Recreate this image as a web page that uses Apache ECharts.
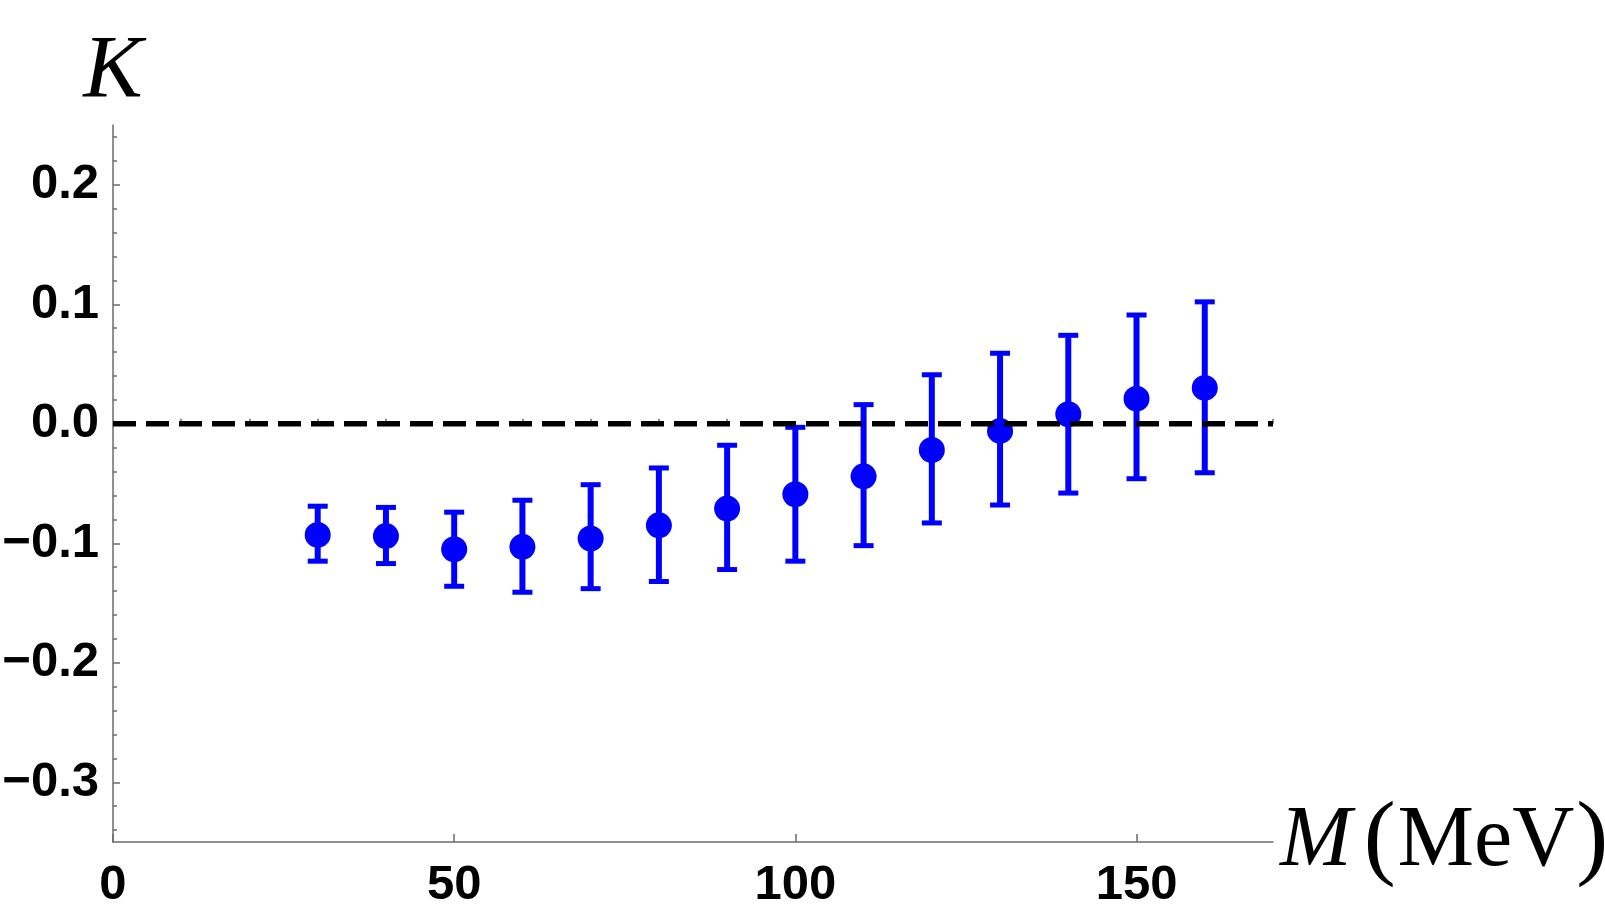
<!DOCTYPE html>
<html>
<head>
<meta charset="utf-8">
<script src="https://cdn.jsdelivr.net/npm/echarts@6/dist/echarts.min.js"></script>
<style>
html,body{margin:0;padding:0;background:#fff;}
#chart{width:1605px;height:917px;}
</style>
</head>
<body>
<div id="chart"></div>
<script>
// ---- data ----
var massMeV = [30, 40, 50, 60, 70, 80, 90, 100, 110, 120, 130, 140, 150, 160];
var kValue  = [-0.093, -0.094, -0.105, -0.103, -0.096, -0.085, -0.071, -0.059, -0.044, -0.022, -0.006, 0.008, 0.021, 0.030];
var kUpper  = [-0.069, -0.070, -0.074, -0.064, -0.051, -0.037, -0.018, -0.003, 0.016, 0.041, 0.059, 0.074, 0.091, 0.102];
var kLower  = [-0.115, -0.117, -0.136, -0.141, -0.138, -0.132, -0.122, -0.115, -0.102, -0.083, -0.068, -0.058, -0.046, -0.041];
var zeroLineX = [0, 170];
var zeroLineY = [0, 0];
var xMajorTicks = [0, 50, 100, 150];
var xMinorTicks = [10, 20, 30, 40, 60, 70, 80, 90, 110, 120, 130, 140, 160, 170];
var yMajorTicks = [-0.3, -0.2, -0.1, 0.0, 0.1, 0.2];
var yMinorTicks = [-0.34, -0.32, -0.28, -0.26, -0.24, -0.22, -0.18, -0.16, -0.14, -0.12,
                   -0.08, -0.06, -0.04, -0.02, 0.02, 0.04, 0.06, 0.08, 0.12, 0.14, 0.16, 0.18, 0.22, 0.24];

var pointData = massMeV.map(function (m, i) { return [m, kValue[i]]; });
var errData = massMeV.map(function (m, i) { return [m, kLower[i], kUpper[i]]; });
var zeroData = zeroLineX.map(function (x, i) { return [x, zeroLineY[i]]; });

var axisColor = '#6b6b6b';
var labelFont = { fontFamily: 'Liberation Sans, Arial, sans-serif', fontWeight: 'bold', fontSize: 49, color: '#000' };
var serif = 'Liberation Serif, Times New Roman, serif';

var chart = echarts.init(document.getElementById('chart'));
chart.setOption({
  animation: false,
  backgroundColor: '#fff',
  grid: { left: 113, right: 332, top: 125, bottom: 75, containLabel: false, outerBoundsMode: 'none' },
  xAxis: [{
    type: 'value', min: 0, max: 170, position: 'bottom',
    axisLine: { show: true, onZero: false, lineStyle: { color: axisColor, width: 1.5 } },
    axisTick: { show: true, inside: true, length: 8, customValues: xMajorTicks, lineStyle: { color: axisColor, width: 1.5 } },
    axisLabel: Object.assign({ customValues: xMajorTicks, margin: 19, formatter: function (v) { return String(v); } }, labelFont),
    splitLine: { show: false },
    name: '{m|M}{p1|(}{r|MeV}{p|)}',
    nameLocation: 'end', nameGap: 7,
    nameTextStyle: {
      rich: {
        m: { fontFamily: serif, fontStyle: 'italic', fontSize: 86, color: '#000' },
        p1: { fontFamily: serif, fontSize: 96, color: '#000', padding: [0, 2, 0, 12] },
        p: { fontFamily: serif, fontSize: 96, color: '#000', padding: [0, 0, 0, 2] },
        r: { fontFamily: serif, fontSize: 86, color: '#000' }
      }
    }
  }, {
    type: 'value', min: 0, max: 170, position: 'bottom',
    axisLine: { show: false },
    axisTick: { show: true, inside: true, length: 5, customValues: xMinorTicks, lineStyle: { color: axisColor, width: 1.5 } },
    axisLabel: { show: false },
    splitLine: { show: false }
  }],
  yAxis: [{
    type: 'value', min: -0.35, max: 0.25, position: 'left',
    axisLine: { show: true, onZero: false, lineStyle: { color: axisColor, width: 1.5 } },
    axisTick: { show: true, inside: true, length: 7, customValues: yMajorTicks, lineStyle: { color: axisColor, width: 1.5 } },
    axisLabel: Object.assign({ customValues: yMajorTicks, margin: 14,
      formatter: function (v) { var s = Math.abs(v).toFixed(1); return v < -1e-9 ? '\u2212' + s : s; } }, labelFont),
    splitLine: { show: false },
    name: 'K', nameLocation: 'end', nameGap: 8,
    nameTextStyle: { fontFamily: serif, fontStyle: 'italic', fontSize: 89, color: '#000', align: 'center' }
  }, {
    type: 'value', min: -0.35, max: 0.25, position: 'left',
    axisLine: { show: false },
    axisTick: { show: true, inside: true, length: 4, customValues: yMinorTicks, lineStyle: { color: axisColor, width: 1.5 } },
    axisLabel: { show: false },
    splitLine: { show: false }
  }],
  series: [{
    type: 'custom',
    xAxisIndex: 0, yAxisIndex: 0,
    z: 2,
    data: errData,
    renderItem: function (params, api) {
      var x = api.value(0);
      var lo = api.coord([x, api.value(1)]);
      var hi = api.coord([x, api.value(2)]);
      var capHalf = 10;
      var style = { stroke: '#0000ff', lineWidth: 6 };
      var capStyle = { stroke: '#0000ff', lineWidth: 5 };
      return {
        type: 'group',
        children: [
          { type: 'line', shape: { x1: lo[0], y1: lo[1], x2: hi[0], y2: hi[1] }, style: style },
          { type: 'line', shape: { x1: lo[0] - capHalf, y1: lo[1], x2: lo[0] + capHalf, y2: lo[1] }, style: capStyle },
          { type: 'line', shape: { x1: hi[0] - capHalf, y1: hi[1], x2: hi[0] + capHalf, y2: hi[1] }, style: capStyle }
        ]
      };
    }
  }, {
    type: 'scatter',
    xAxisIndex: 0, yAxisIndex: 0,
    z: 3,
    data: pointData,
    symbol: 'circle', symbolSize: 26,
    itemStyle: { color: '#0000ff', opacity: 1 }
  }, {
    type: 'line',
    xAxisIndex: 0, yAxisIndex: 0,
    z: 4,
    data: zeroData,
    showSymbol: false, symbol: 'none',
    lineStyle: { color: '#000', width: 5.5, type: [23, 10] }
  }]
});
</script>
</body>
</html>
